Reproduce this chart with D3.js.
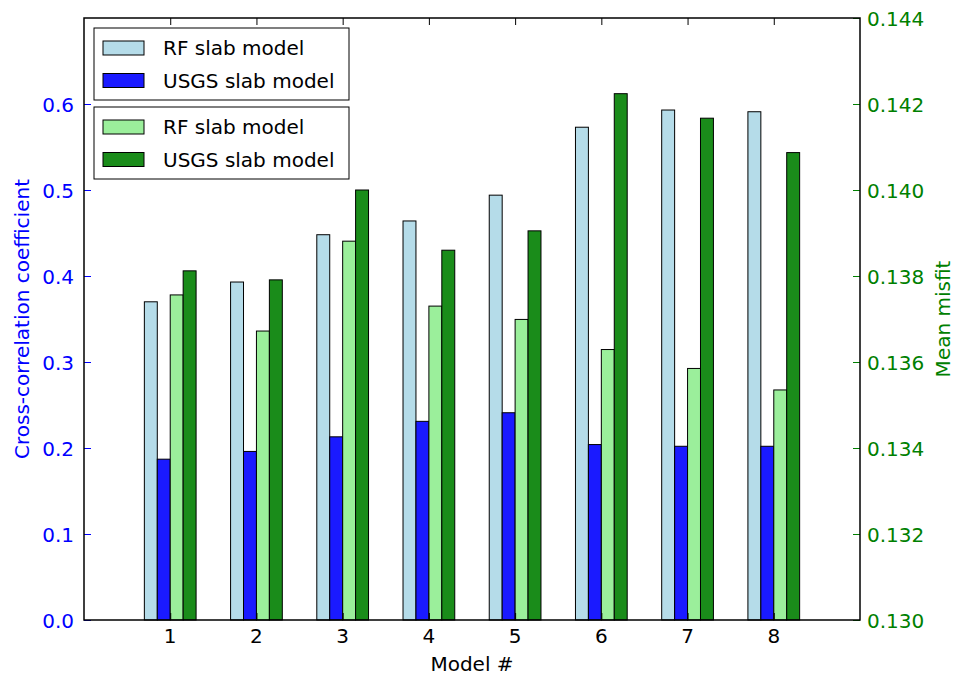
<!DOCTYPE html>
<html>
<head>
<meta charset="utf-8">
<script src="https://cdn.jsdelivr.net/npm/d3@7"></script>
<style>
  body { margin: 0; background: #fff; }
  text { font-family: "DejaVu Sans", sans-serif; font-size: 20px; }
</style>
</head>
<body>
<div id="chart"></div>
<script>
// models on the x axis
var models = [1, 2, 3, 4, 5, 6, 7, 8];

// cross-correlation coefficient (left axis)
var rfCorr   = [0.370, 0.393, 0.448, 0.464, 0.494, 0.573, 0.593, 0.591];
var usgsCorr = [0.187, 0.196, 0.213, 0.231, 0.241, 0.204, 0.202, 0.202];

// mean misfit (right axis)
var rfMisfit   = [0.13756, 0.13672, 0.13881, 0.13730, 0.13699, 0.13629, 0.13585, 0.13535];
var usgsMisfit = [0.13812, 0.13791, 0.14000, 0.13860, 0.13905, 0.14224, 0.14167, 0.14087];

var leftTicks  = [0.0, 0.1, 0.2, 0.3, 0.4, 0.5, 0.6];
var rightTicks = [0.130, 0.132, 0.134, 0.136, 0.138, 0.140, 0.142, 0.144];

var W = 956, H = 682;
var dim = {l: 84, r: 860, t: 18, b: 620};
var barW = 0.15;

var svg = d3.select('#chart').append('svg')
    .attr('width', W)
    .attr('height', H);

// scales
var x = d3.scaleLinear().domain([0, 9]).range([dim.l, dim.r]);
var yL = d3.scaleLinear().domain([0, 0.7]).range([dim.b, dim.t]);
var yR = d3.scaleLinear().domain([0.130, 0.144]).range([dim.b, dim.t]);

// series: values, scale, offset and colour
var series = [
    {name: 'RF slab model',   vals: rfCorr,     y: yL, off: -0.30, fill: '#b5dce9'},
    {name: 'USGS slab model', vals: usgsCorr,   y: yL, off: -0.15, fill: '#1a1aff'},
    {name: 'RF slab model',   vals: rfMisfit,   y: yR, off: 0.00,  fill: '#9bef9b'},
    {name: 'USGS slab model', vals: usgsMisfit, y: yR, off: 0.15,  fill: '#1a8c1a'}
];

// bars
series.forEach(function(s) {
    svg.append('g').selectAll('rect').data(s.vals).enter()
        .append('rect')
        .attr('x', function(d, i) { return x(models[i] + s.off); })
        .attr('y', function(d) { return s.y(d); })
        .attr('width', x(barW) - x(0))
        .attr('height', function(d) { return dim.b - s.y(d); })
        .attr('fill', s.fill)
        .attr('stroke', '#000')
        .attr('stroke-width', 1);
});

// bottom axis (ticks inward)
var xAxis = svg.append('g')
    .attr('transform', 'translate(0,' + dim.b + ')')
    .call(d3.axisTop(x).tickValues(models).tickSize(7).tickFormat(''));
xAxis.select('.domain').remove();
svg.append('g')
    .attr('transform', 'translate(0,' + dim.t + ')')
    .call(d3.axisBottom(x).tickValues(models).tickSize(7).tickFormat(''))
    .select('.domain').remove();
svg.selectAll('.tick line').attr('stroke', '#000');

svg.append('g').selectAll('text').data(models).enter()
    .append('text')
    .attr('x', function(d) { return x(d); })
    .attr('y', 643)
    .attr('text-anchor', 'middle')
    .attr('fill', '#000')
    .text(function(d) { return d; });

// left axis
var gL = svg.append('g')
    .attr('transform', 'translate(' + dim.l + ',0)')
    .call(d3.axisRight(yL).tickValues(leftTicks).tickSize(7).tickFormat(''));
gL.select('.domain').remove();
gL.selectAll('.tick line').attr('stroke', 'blue');
svg.append('g').selectAll('text').data(leftTicks).enter()
    .append('text')
    .attr('x', 74)
    .attr('y', function(d) { return yL(d) + 7.5; })
    .attr('text-anchor', 'end')
    .attr('fill', 'blue')
    .text(function(d) { return d3.format('.1f')(d); });

// right axis
var gR = svg.append('g')
    .attr('transform', 'translate(' + dim.r + ',0)')
    .call(d3.axisLeft(yR).tickValues(rightTicks).tickSize(7).tickFormat(''));
gR.select('.domain').remove();
gR.selectAll('.tick line').attr('stroke', 'green');
svg.append('g').selectAll('text').data(rightTicks).enter()
    .append('text')
    .attr('x', 867)
    .attr('y', function(d) { return yR(d) + 7.5; })
    .attr('fill', 'green')
    .text(function(d) { return d3.format('.3f')(d); });

// frame
svg.append('rect')
    .attr('x', dim.l).attr('y', dim.t)
    .attr('width', dim.r - dim.l).attr('height', dim.b - dim.t)
    .attr('fill', 'none')
    .attr('stroke', '#000')
    .attr('stroke-width', 1.5);

// axis labels
svg.append('text')
    .attr('x', (dim.l + dim.r) / 2)
    .attr('y', 671)
    .attr('text-anchor', 'middle')
    .text('Model #');

svg.append('text')
    .attr('transform', 'translate(29,' + (dim.t + dim.b) / 2 + ') rotate(-90)')
    .attr('text-anchor', 'middle')
    .attr('fill', 'blue')
    .text('Cross-correlation coefficient');

svg.append('text')
    .attr('transform', 'translate(950,' + (dim.t + dim.b) / 2 + ') rotate(-90)')
    .attr('text-anchor', 'middle')
    .attr('fill', 'green')
    .text('Mean misfit');

// legends: one box per axis
function legend(items, top) {
    var g = svg.append('g').attr('transform', 'translate(94,' + top + ')');
    g.append('rect')
        .attr('width', 255).attr('height', 72)
        .attr('fill', '#fff')
        .attr('stroke', '#000')
        .attr('stroke-width', 1);
    items.forEach(function(s, i) {
        g.append('rect')
            .attr('x', 9).attr('y', 13 + i * 32.5)
            .attr('width', 41).attr('height', 14)
            .attr('fill', s.fill)
            .attr('stroke', '#000')
            .attr('stroke-width', 1);
        g.append('text')
            .attr('x', 69).attr('y', 27 + i * 32.5)
            .attr('fill', '#000')
            .text(s.name);
    });
}
legend(series.slice(0, 2), 28);
legend(series.slice(2, 4), 107);
</script>
</body>
</html>
